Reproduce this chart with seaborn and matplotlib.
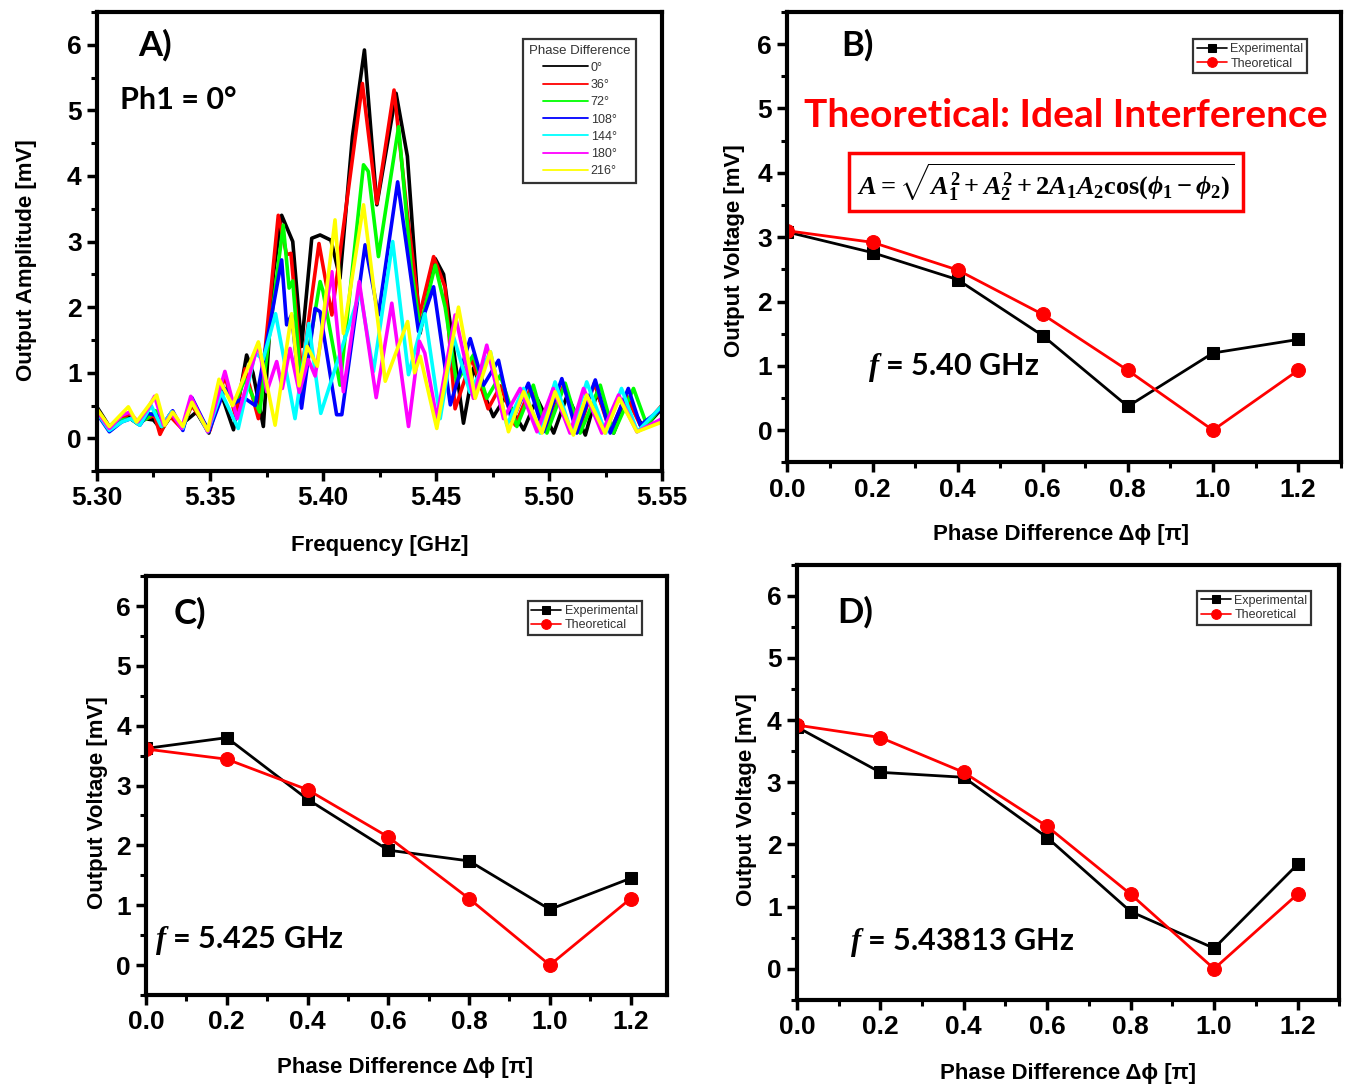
import numpy as np
import pandas as pd
import seaborn as sns
import matplotlib.pyplot as plt
from matplotlib.lines import Line2D
from matplotlib.ticker import MultipleLocator, FormatStrFormatter

sns.set_theme(style='ticks')
plt.rcParams['font.family'] = ['Liberation Sans', 'DejaVu Sans']
plt.rcParams['text.color'] = 'black'
plt.rcParams['axes.labelcolor'] = 'black'
plt.rcParams['xtick.color'] = 'black'
plt.rcParams['ytick.color'] = 'black'
plt.rcParams['mathtext.fontset'] = 'custom'
plt.rcParams['mathtext.rm'] = 'Liberation Serif:bold'
plt.rcParams['mathtext.it'] = 'Liberation Serif:bold:italic'
plt.rcParams['mathtext.bf'] = 'Liberation Serif:bold'

# Panel A: output spectra, (frequency GHz, amplitude mV)
pts_000 = [(5.300, 0.48), (5.3055, 0.18), (5.310, 0.30), (5.3135, 0.33), (5.317, 0.25),
           (5.321, 0.30), (5.325, 0.28), (5.3286, 0.13), (5.333, 0.35), (5.337, 0.20),
           (5.3405, 0.30), (5.344, 0.40), (5.3495, 0.08), (5.354, 0.78), (5.3604, 0.13),
           (5.3662, 1.27), (5.369, 1.00), (5.3736, 0.18), (5.378, 2.50), (5.3817, 3.40),
           (5.3866, 3.00), (5.3905, 1.40), (5.395, 3.05), (5.3987, 3.10), (5.4035, 3.02),
           (5.4075, 2.44), (5.413, 4.60), (5.4183, 5.92), (5.4238, 3.56), (5.4323, 5.26),
           (5.4373, 4.30), (5.4429, 1.60), (5.4496, 2.74), (5.4533, 2.50), (5.4621, 0.23),
           (5.4665, 1.07), (5.4753, 0.33), (5.4805, 0.62), (5.4887, 0.13), (5.4946, 0.61),
           (5.502, 0.08), (5.508, 0.66), (5.516, 0.05), (5.5211, 0.69), (5.5285, 0.08),
           (5.5344, 0.61), (5.5418, 0.15), (5.550, 0.46)]
pts_036 = [(5.300, 0.42), (5.3055, 0.15), (5.311, 0.30), (5.3145, 0.38), (5.318, 0.25),
           (5.322, 0.30), (5.3255, 0.35), (5.3279, 0.06), (5.332, 0.35), (5.3375, 0.15),
           (5.342, 0.50), (5.347, 0.25), (5.350, 0.12), (5.3566, 0.96), (5.3611, 0.36),
           (5.3655, 1.06), (5.3714, 0.30), (5.3802, 3.40), (5.3839, 2.80), (5.3858, 2.82),
           (5.3905, 1.00), (5.3982, 2.97), (5.4039, 1.88), (5.4174, 5.41), (5.4238, 3.58),
           (5.4314, 5.31), (5.4370, 3.50), (5.4427, 1.88), (5.4489, 2.77), (5.4540, 2.30),
           (5.4584, 0.45), (5.4658, 1.22), (5.4730, 0.45), (5.4785, 0.80), (5.4850, 0.20),
           (5.4917, 0.76), (5.4990, 0.13), (5.5064, 0.81), (5.5130, 0.10), (5.5200, 0.84),
           (5.5270, 0.10), (5.5340, 0.66), (5.5410, 0.15), (5.5500, 0.51)]
pts_072 = [(5.300, 0.40), (5.306, 0.12), (5.311, 0.28), (5.315, 0.30), (5.318, 0.22),
           (5.322, 0.30), (5.326, 0.42), (5.329, 0.18), (5.333, 0.40), (5.338, 0.15),
           (5.342, 0.55), (5.3495, 0.12), (5.3556, 0.80), (5.3604, 0.50), (5.3655, 0.90),
           (5.3720, 0.40), (5.3824, 3.25), (5.3850, 2.29), (5.3866, 2.40), (5.3905, 0.70),
           (5.3987, 2.39), (5.4000, 2.24), (5.4075, 0.81), (5.4179, 4.17), (5.4200, 4.07),
           (5.4245, 2.77), (5.4334, 4.75), (5.4390, 2.60), (5.4429, 1.68), (5.4496, 2.64),
           (5.4540, 2.00), (5.4590, 0.86), (5.4665, 1.27), (5.4724, 0.61), (5.4784, 0.96),
           (5.4857, 0.18), (5.4930, 0.81), (5.4990, 0.08), (5.5071, 0.84), (5.5137, 0.08),
           (5.5226, 0.81), (5.5285, 0.08), (5.5373, 0.76), (5.5432, 0.20), (5.5500, 0.50)]
pts_108 = [(5.300, 0.38), (5.3055, 0.10), (5.311, 0.25), (5.315, 0.30), (5.319, 0.20),
           (5.3225, 0.38), (5.3265, 0.35), (5.329, 0.20), (5.3335, 0.42), (5.338, 0.12),
           (5.342, 0.62), (5.3495, 0.10), (5.3566, 0.76), (5.3600, 0.52), (5.3650, 0.62),
           (5.3700, 0.50), (5.3817, 2.72), (5.3839, 1.73), (5.3861, 1.88), (5.3905, 0.46),
           (5.3965, 1.98), (5.3987, 1.93), (5.4060, 0.36), (5.4083, 0.36), (5.4186, 2.95),
           (5.4245, 1.88), (5.4330, 3.91), (5.4422, 1.63), (5.4489, 2.31), (5.4563, 0.51),
           (5.4651, 1.52), (5.4710, 0.81), (5.4776, 1.19), (5.4835, 0.25), (5.4908, 0.84),
           (5.4975, 0.10), (5.5056, 0.91), (5.5122, 0.08), (5.5204, 0.89), (5.5270, 0.08),
           (5.5350, 0.76), (5.5403, 0.20), (5.5500, 0.46)]
pts_144 = [(5.300, 0.40), (5.3055, 0.12), (5.311, 0.25), (5.315, 0.30), (5.319, 0.20),
           (5.324, 0.50), (5.3285, 0.18), (5.333, 0.40), (5.338, 0.15), (5.3415, 0.60),
           (5.349, 0.10), (5.355, 0.70), (5.3625, 0.15), (5.3700, 1.30), (5.3735, 1.20),
           (5.3790, 1.90), (5.3876, 0.30), (5.3937, 1.75), (5.3990, 0.38), (5.4164, 2.24),
           (5.4223, 1.02), (5.4308, 3.00), (5.4378, 0.97), (5.4450, 1.90), (5.4518, 0.30),
           (5.4577, 1.55), (5.4650, 0.70), (5.4740, 1.32), (5.4813, 0.20), (5.4887, 0.76),
           (5.4960, 0.08), (5.5026, 0.86), (5.5100, 0.08), (5.5166, 0.86), (5.5250, 0.08),
           (5.5320, 0.76), (5.5390, 0.10), (5.5500, 0.50)]
pts_180 = [(5.300, 0.42), (5.3055, 0.15), (5.311, 0.35), (5.3145, 0.40), (5.318, 0.25),
           (5.3225, 0.45), (5.3255, 0.64), (5.3295, 0.20), (5.333, 0.38), (5.3375, 0.15),
           (5.3415, 0.64), (5.349, 0.10), (5.3566, 1.02), (5.3620, 0.30), (5.3714, 1.45),
           (5.3751, 0.71), (5.3795, 1.17), (5.3820, 0.76), (5.3854, 1.37), (5.3895, 0.70),
           (5.3935, 1.20), (5.3965, 0.95), (5.4039, 2.54), (5.4090, 0.71), (5.4160, 2.39),
           (5.4235, 0.62), (5.4304, 2.06), (5.4378, 0.18), (5.4426, 1.48), (5.4450, 1.30),
           (5.4503, 0.30), (5.4584, 1.88), (5.4665, 0.61), (5.4724, 1.42), (5.4798, 0.30),
           (5.4872, 0.76), (5.4946, 0.10), (5.5018, 0.76), (5.5092, 0.08), (5.5152, 0.76),
           (5.5233, 0.08), (5.5307, 0.66), (5.5388, 0.10), (5.5500, 0.30)]
pts_216 = [(5.300, 0.45), (5.3055, 0.18), (5.3139, 0.48), (5.3175, 0.25), (5.3264, 0.66),
           (5.3300, 0.20), (5.3335, 0.40), (5.3380, 0.18), (5.3420, 0.55), (5.3490, 0.12),
           (5.3540, 0.90), (5.3600, 0.50), (5.3714, 1.47), (5.3788, 0.20), (5.3861, 1.90),
           (5.3894, 0.80), (5.3930, 1.40), (5.3975, 1.10), (5.4053, 3.33), (5.4090, 1.60),
           (5.4179, 3.56), (5.4275, 0.87), (5.4374, 1.78), (5.4405, 1.00), (5.4430, 1.25),
           (5.4503, 0.15), (5.4599, 2.00), (5.4673, 0.61), (5.4740, 1.32), (5.4820, 0.10),
           (5.4887, 0.71), (5.4968, 0.08), (5.5026, 0.71), (5.5107, 0.05), (5.5166, 0.66),
           (5.5247, 0.08), (5.5310, 0.61), (5.5388, 0.10), (5.5500, 0.25)]

phase_labels = ['0°', '36°', '72°', '108°', '144°', '180°', '216°']
phase_colors = ['black', '#ff0000', '#00ff00', '#0000ff', '#00ffff', '#ff00ff', '#ffff00']
spectra = [pts_000, pts_036, pts_072, pts_108, pts_144, pts_180, pts_216]

# Panels B-D: output voltage vs phase difference (units of pi)
phase = [0.0, 0.2, 0.4, 0.6, 0.8, 1.0, 1.2]
b_exp = [3.08, 2.76, 2.34, 1.47, 0.37, 1.20, 1.41]
b_theo = [3.10, 2.92, 2.49, 1.80, 0.93, 0.00, 0.93]
c_exp = [3.62, 3.80, 2.77, 1.92, 1.74, 0.93, 1.45]
c_theo = [3.61, 3.44, 2.93, 2.14, 1.11, 0.00, 1.11]
d_exp = [3.89, 3.16, 3.08, 2.11, 0.92, 0.33, 1.68]
d_theo = [3.92, 3.72, 3.16, 2.29, 1.20, 0.00, 1.20]


def style_axis(ax, xstep, xminor, xfmt):
    ax.set_ylim(-0.5, 6.5)
    ax.xaxis.set_major_locator(MultipleLocator(xstep))
    ax.xaxis.set_minor_locator(MultipleLocator(xminor))
    ax.xaxis.set_major_formatter(FormatStrFormatter(xfmt))
    ax.yaxis.set_major_locator(MultipleLocator(1))
    ax.yaxis.set_minor_locator(MultipleLocator(0.5))
    for sp in ax.spines.values():
        sp.set_visible(True)
        sp.set_linewidth(3)
        sp.set_color('black')
    ax.tick_params(which='major', direction='out', length=7, width=2.5,
                   labelsize=19, pad=4, color='black')
    ax.tick_params(which='minor', direction='out', length=4.5, width=2.2,
                   color='black')
    for lab in ax.get_xticklabels() + ax.get_yticklabels():
        lab.set_fontweight('bold')


fig = plt.figure(figsize=(13.46, 10.88), dpi=100)
fig.patch.set_facecolor('white')
ax_a = fig.add_axes([0.072, 0.567, 0.420, 0.422])
ax_b = fig.add_axes([0.585, 0.575, 0.411, 0.414])
ax_c = fig.add_axes([0.1085, 0.0855, 0.387, 0.385])
ax_d = fig.add_axes([0.592, 0.081, 0.403, 0.400])

# Panel A
frames = []
for lab, pts in zip(phase_labels, spectra):
    frames.append(pd.DataFrame(pts, columns=['freq', 'amp']).assign(phase=lab))
df_a = pd.concat(frames, ignore_index=True)
sns.lineplot(data=df_a, x='freq', y='amp', hue='phase', hue_order=phase_labels,
             palette=phase_colors, sort=False, estimator=None, lw=2.6,
             legend=False, ax=ax_a)
ax_a.set_xlim(5.30, 5.55)
style_axis(ax_a, 0.05, 0.025, '%.2f')
ax_a.set_xlabel('Frequency [GHz]', fontsize=16, fontweight='bold')
ax_a.set_ylabel('Output Amplitude [mV]', fontsize=16, fontweight='bold')
ax_a.xaxis.set_label_coords(0.50, -0.14)
ax_a.yaxis.set_label_coords(-0.106, 0.46)
handles = [Line2D([], [], color=c, lw=1.3) for c in phase_colors]
leg = ax_a.legend(handles, phase_labels, title='Phase Difference', loc='upper right',
                  bbox_to_anchor=(0.965, 0.955), fontsize=9, title_fontsize=9.5,
                  fancybox=False, edgecolor='black', handlelength=3.6,
                  labelspacing=0.42, borderpad=0.45, handletextpad=0.2)
leg.get_frame().set_linewidth(1.6)
for t in leg.get_texts():
    t.set_color('#333333')
leg.get_title().set_color('#333333')
ax_a.text(0.102, 0.928, 'A)', transform=ax_a.transAxes, fontsize=25,
          fontweight='bold', family='Lato', ha='center', va='center')
ax_a.text(0.041, 0.808, 'Ph1 = 0°', transform=ax_a.transAxes, fontsize=22,
          fontweight='bold', family='Lato', ha='left', va='center')

# Panels B, C, D
panels = [
    (ax_b, b_exp, b_theo, 'B)', '5.40', 1.30, (0.127, 0.927), (0.146, 0.211),
     (0.951, 0.953), (-0.076, 0.471), (0.494, -0.136)),
    (ax_c, c_exp, c_theo, 'C)', '5.425', 1.29, (0.084, 0.912), (0.017, 0.131),
     (0.964, 0.955), (-0.073, 0.46), (0.497, -0.148)),
    (ax_d, d_exp, d_theo, 'D)', '5.43813', 1.30, (0.107, 0.890), (0.098, 0.131),
     (0.960, 0.954), (-0.074, 0.46), (0.499, -0.145)),
]
for ax, y_exp, y_theo, tag, freq, xmax, tag_pos, f_pos, leg_pos, ylab_pos, xlab_pos in panels:
    sns.lineplot(x=phase, y=y_exp, marker='s', color='black', markersize=9,
                 markeredgecolor='black', lw=2, label='Experimental', ax=ax)
    sns.lineplot(x=phase, y=y_theo, marker='o', color='#ff0000', markersize=10,
                 markeredgecolor='#ff0000', lw=2, label='Theoretical', ax=ax)
    ax.set_xlim(0, xmax)
    style_axis(ax, 0.2, 0.1, '%.1f')
    ax.set_xlabel('Phase Difference Δϕ [π]', fontsize=16, fontweight='bold')
    ax.set_ylabel('Output Voltage [mV]', fontsize=16, fontweight='bold')
    ax.xaxis.set_label_coords(*xlab_pos)
    ax.yaxis.set_label_coords(*ylab_pos)
    leg = ax.legend(loc='upper right', bbox_to_anchor=leg_pos, fontsize=9,
                    fancybox=False, edgecolor='black', handlelength=2.4,
                    markerscale=0.7, labelspacing=0.2, borderpad=0.3,
                    handletextpad=0.3)
    leg.get_frame().set_linewidth(1.6)
    for t in leg.get_texts():
        t.set_color('#333333')
    for h in leg.legend_handles:
        h.set_linewidth(1.2)
    ax.text(tag_pos[0], tag_pos[1], tag, transform=ax.transAxes, fontsize=25,
            fontweight='bold', family='Lato', ha='center', va='center')
    ax.text(f_pos[0], f_pos[1], r'$f$ = ' + freq + ' GHz', transform=ax.transAxes,
            fontsize=22, fontweight='bold', family='Lato', ha='left', va='center')

ax_b.text(0.503, 0.771, 'Theoretical: Ideal Interference', transform=ax_b.transAxes,
          fontsize=28, fontweight='bold', family='Lato', color='#ff0000',
          ha='center', va='center')
ax_b.text(0.468, 0.622, r'$A=\sqrt{A_1^2+A_2^2+2A_1A_2\cos(\phi_1-\phi_2)}$',
          transform=ax_b.transAxes, fontsize=19, ha='center', va='center',
          bbox=dict(boxstyle='square,pad=0.3', fc='white', ec='#ff0000', lw=2.5))

fig.savefig('out.png', dpi=100, facecolor='white')
